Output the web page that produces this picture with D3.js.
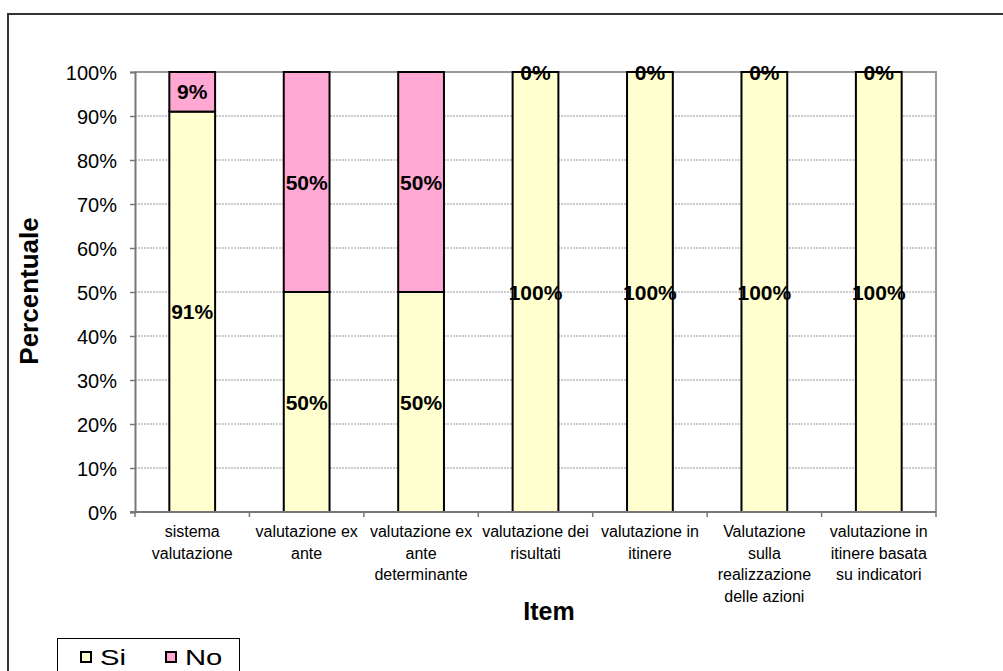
<!DOCTYPE html>
<html>
<head>
<meta charset="utf-8">
<script src="https://cdn.jsdelivr.net/npm/d3@7"></script>
<style>
  html, body { margin: 0; padding: 0; background: #fff; }
  svg { display: block; font-family: Arial, "Liberation Sans", sans-serif; }
</style>
</head>
<body>
<svg id="chart" width="1003" height="671"></svg>
<script>
// Item labels (already split into lines as shown under the axis)
const categories = [
  ["sistema", "valutazione"],
  ["valutazione ex", "ante"],
  ["valutazione ex", "ante", "determinante"],
  ["valutazione dei", "risultati"],
  ["valutazione in", "itinere"],
  ["Valutazione", "sulla", "realizzazione", "delle azioni"],
  ["valutazione in", "itinere basata", "su indicatori"]
];
const siValues = [91, 50, 50, 100, 100, 100, 100];
const noValues = [9, 50, 50, 0, 0, 0, 0];
const seriesNames = ["Si", "No"];
const yTicks = [0, 10, 20, 30, 40, 50, 60, 70, 80, 90, 100];

const colors = { Si: "#ffffd0", No: "#ffa8d4" };
const FONT = "Arial, 'Liberation Sans', sans-serif";

const svg = d3.select("#chart");

// outer frame
svg.append("rect")
  .attr("x", 8).attr("y", 14)
  .attr("width", 1010).attr("height", 680)
  .attr("fill", "none").attr("stroke", "#333").attr("stroke-width", 2);

const plot = { left: 135, right: 936, top: 72, bottom: 512 };

const x = d3.scaleBand()
  .domain(d3.range(categories.length))
  .range([plot.left, plot.right])
  .paddingInner(0.6).paddingOuter(0.3);

const y = d3.scaleLinear().domain([0, 100]).range([plot.bottom, plot.top]);

// gridlines
svg.append("g").selectAll("line")
  .data(yTicks.filter(t => t > 0 && t < 100))
  .join("line")
  .attr("x1", plot.left).attr("x2", plot.right)
  .attr("y1", d => y(d)).attr("y2", d => y(d))
  .attr("stroke", "#999").attr("stroke-width", 1)
  .attr("stroke-dasharray", "2,1");

// plot border (top and right)
svg.append("path")
  .attr("d", `M${plot.left},${plot.top}H${plot.right}V${plot.bottom}`)
  .attr("fill", "none").attr("stroke", "#999").attr("stroke-width", 2);

// stacked data
const rows = categories.map((c, i) => ({ i, Si: siValues[i], No: noValues[i] }));
const stack = d3.stack().keys(seriesNames)(rows);

const bars = svg.append("g");
stack.forEach(layer => {
  bars.selectAll(null)
    .data(layer)
    .join("rect")
    .attr("x", d => x(d.data.i))
    .attr("width", x.bandwidth())
    .attr("y", d => y(d[1]))
    .attr("height", d => y(d[0]) - y(d[1]))
    .attr("fill", colors[layer.key])
    .attr("stroke", "#000")
    .attr("stroke-width", 2);
});

// value labels
const labels = svg.append("g")
  .attr("font-size", 21).attr("font-weight", "bold")
  .attr("text-anchor", "middle").attr("fill", "#000");
stack.forEach(layer => {
  labels.selectAll(null)
    .data(layer)
    .join("text")
    .attr("x", d => x(d.data.i) + x.bandwidth() / 2)
    .attr("y", d => y((d[0] + d[1]) / 2))
    .attr("dy", "0.36em")
    .text(d => (d[1] - d[0]) + "%");
});

// y axis
const yAxis = d3.axisLeft(y)
  .tickValues(yTicks)
  .tickFormat(d => d + "%")
  .tickSize(5).tickPadding(13);
const gy = svg.append("g").attr("transform", `translate(${plot.left},0)`).call(yAxis);
gy.select(".domain").attr("stroke", "#777").attr("stroke-width", 2);
gy.selectAll(".tick line").attr("stroke", "#777").attr("stroke-width", 1.5);
gy.selectAll(".tick text").attr("font-size", 20).attr("fill", "#000")
  .attr("font-family", FONT).attr("dy", "0.36em");

// x axis
svg.append("line")
  .attr("x1", plot.left - 5).attr("x2", plot.right)
  .attr("y1", plot.bottom).attr("y2", plot.bottom)
  .attr("stroke", "#777").attr("stroke-width", 2);
const step = x.step();
svg.append("g").selectAll("line")
  .data(d3.range(categories.length + 1))
  .join("line")
  .attr("x1", d => plot.left + d * step).attr("x2", d => plot.left + d * step)
  .attr("y1", plot.bottom).attr("y2", plot.bottom + 5)
  .attr("stroke", "#777").attr("stroke-width", 1.5);

const xl = svg.append("g").attr("font-size", 16).attr("text-anchor", "middle").attr("fill", "#000");
categories.forEach((lines, i) => {
  const cx = x(i) + x.bandwidth() / 2;
  const t = xl.append("text").attr("x", cx).attr("y", 537);
  lines.forEach((ln, k) => {
    t.append("tspan").attr("x", cx).attr("y", 537 + k * 21.5).text(ln);
  });
});

// axis titles
svg.append("text")
  .attr("transform", "translate(38,291) rotate(-90)")
  .attr("text-anchor", "middle")
  .attr("font-size", 26).attr("font-weight", "bold")
  .text("Percentuale");
svg.append("text")
  .attr("x", 549).attr("y", 620)
  .attr("text-anchor", "middle")
  .attr("font-size", 25).attr("font-weight", "bold")
  .text("Item");

// legend
const lg = svg.append("g");
lg.append("rect")
  .attr("x", 57.5).attr("y", 638.5).attr("width", 182).attr("height", 60)
  .attr("fill", "#fff").attr("stroke", "#000").attr("stroke-width", 1);
const legendX = [80, 165];
seriesNames.forEach((name, k) => {
  const ox = legendX[k];
  lg.append("rect")
    .attr("x", ox + 1).attr("y", 652).attr("width", 10).attr("height", 10)
    .attr("fill", colors[name]).attr("stroke", "#000").attr("stroke-width", 2);
  lg.append("text")
    .attr("transform", `translate(${ox + 20},665) scale(1.33,1)`)
    .attr("font-size", 22).attr("fill", "#000")
    .text(name);
});
</script>
</body>
</html>
